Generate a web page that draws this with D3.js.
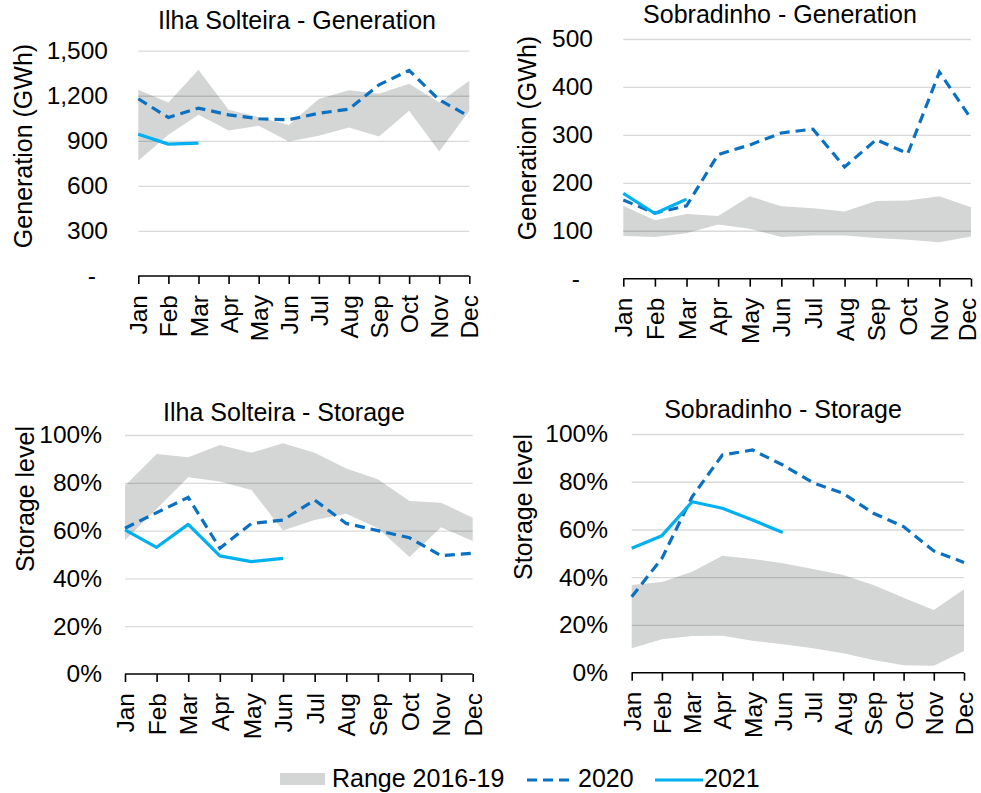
<!DOCTYPE html>
<html>
<head>
<meta charset="utf-8">
<script src="https://cdn.jsdelivr.net/npm/d3@7"></script>
<style>
  html, body { margin: 0; padding: 0; background: #fff; }
  svg { display: block; font-family: Arial, "Liberation Sans", sans-serif; }
</style>
</head>
<body>
<svg id="chart" width="981" height="793"></svg>
<script>
// ---------- DATA ----------
const months = ["Jan","Feb","Mar","Apr","May","Jun","Jul","Aug","Sep","Oct","Nov","Dec"];

// Ilha Solteira - Generation (GWh)
const ilhaGenLow   = [767, 940, 1073, 969, 1000, 895, 933, 989, 929, 1100, 829, 1100];
const ilhaGenHigh  = [1240, 1155, 1373, 1107, 1058, 1005, 1178, 1236, 1213, 1280, 1155, 1300];
const ilhaGen2020  = [1180, 1055, 1118, 1073, 1047, 1040, 1084, 1111, 1273, 1369, 1173, 1062];
const ilhaGen2021  = [944, 878, 884];
const ilhaGenTicks = [0, 300, 600, 900, 1200, 1500];

// Sobradinho - Generation (GWh)
const sobGenLow   = [89, 87, 95, 113, 104, 87, 90, 90, 85, 81, 76, 88];
const sobGenHigh  = [152, 122, 135, 131, 172, 151, 147, 140, 162, 163, 172, 149];
const sobGen2020  = [164, 137, 152, 259, 279, 304, 312, 233, 290, 261, 431, 334];
const sobGen2021  = [178, 136, 166];
const sobGenTicks = [0, 100, 200, 300, 400, 500];

// Ilha Solteira - Storage (%)
const ilhaStoLow  = [56, 69, 82.3, 80.5, 77, 60, 64.4, 67, 61, 49, 61.4, 55.6];
const ilhaStoHigh = [78.8, 92, 90.7, 95.8, 92.6, 96.5, 92.6, 86, 81.5, 72.4, 71.7, 65.4];
const ilhaSto2020 = [61, 67.5, 73.9, 52.6, 63, 64.4, 72.8, 63, 60, 57, 49.5, 50.5];
const ilhaSto2021 = [60.3, 53, 62.6, 49.4, 47, 48.4];

// Sobradinho - Storage (%)
const sobStoLow  = [10.2, 14, 15.4, 15.5, 13.4, 11.9, 10.2, 8.1, 5.3, 3.1, 2.9, 9.1];
const sobStoHigh = [36.7, 38, 42.3, 49, 47.6, 45.9, 43.4, 40.9, 36.7, 31.4, 26.3, 35];
const sobSto2020 = [31.8, 47.9, 73.7, 91.2, 93.3, 87, 79.6, 75.1, 66.8, 61.2, 51, 46.2];
const sobSto2021 = [52.1, 57.4, 71.6, 68.9, 64, 58.7];
const stoTicks   = [0, 20, 40, 60, 80, 100];

const legendLabels = ["Range 2016-19", "2020", "2021"];

// ---------- STYLE ----------
const C_BAND = "#d4d5d5";
const C_2020 = "#0a70c2";
const C_2021 = "#00b0f0";
const FONT = 25;
const TICKFONT = 24.5;
const W = 981;

const svg = d3.select("#chart");

const panels = [
  { title: "Ilha Solteira - Generation", ytitle: "Generation (GWh)",
    low: ilhaGenLow, high: ilhaGenHigh, s2020: ilhaGen2020, s2021: ilhaGen2021,
    ticks: ilhaGenTicks, max: 1500,
    fmt: v => v === 0 ? "-" : d3.format(",")(v),
    x0: 138.3, x1: 469.3, yTop: 50.7, yBase: 276,
    tickRight: 108, zeroRight: 96, titleX: 297, titleY: 29, ytX: 23, ytY: 146 },
  { title: "Sobradinho - Generation", ytitle: "Generation (GWh)",
    low: sobGenLow, high: sobGenHigh, s2020: sobGen2020, s2021: sobGen2021,
    ticks: sobGenTicks, max: 500,
    fmt: v => v === 0 ? "-" : d3.format(",")(v),
    x0: 623.3, x1: 971, yTop: 39, yBase: 278.7,
    tickRight: 593, zeroRight: 580, titleX: 780, titleY: 23, ytX: 527, ytY: 138 },
  { title: "Ilha Solteira - Storage", ytitle: "Storage level",
    low: ilhaStoLow, high: ilhaStoHigh, s2020: ilhaSto2020, s2021: ilhaSto2021,
    ticks: stoTicks, max: 100,
    fmt: v => v + "%",
    x0: 125, x1: 472.7, yTop: 435, yBase: 674,
    tickRight: 102, zeroRight: 102, titleX: 284, titleY: 421, ytX: 25, ytY: 499 },
  { title: "Sobradinho - Storage", ytitle: "Storage level",
    low: sobStoLow, high: sobStoHigh, s2020: sobSto2020, s2021: sobSto2021,
    ticks: stoTicks, max: 100,
    fmt: v => v + "%",
    x0: 631.7, x1: 964, yTop: 434, yBase: 672.7,
    tickRight: 608, zeroRight: 608, titleX: 783, titleY: 418, ytX: 523, ytY: 507 }
];

panels.forEach(p => {
  const g = svg.append("g");
  const x = d3.scalePoint().domain(months).range([p.x0, p.x1]);
  const y = d3.scaleLinear().domain([0, p.max]).range([p.yBase, p.yTop]);

  // band
  const area = d3.area()
    .x((d, i) => x(months[i]))
    .y0((d, i) => y(p.low[i]))
    .y1((d, i) => y(p.high[i]));
  g.append("path").datum(p.low).attr("d", area).attr("fill", C_BAND);

  // gridlines
  const yAxisGrid = d3.axisLeft(y).tickValues(p.ticks.filter(t => t > 0))
    .tickSize(-(p.x1 - p.x0)).tickFormat("");
  const grid = g.append("g").attr("transform", `translate(${p.x0},0)`).call(yAxisGrid);
  grid.select(".domain").remove();
  grid.selectAll("line").attr("stroke", "rgba(0,0,0,0.15)").attr("stroke-width", 1.3);

  // y tick labels
  const yAxis = d3.axisLeft(y).tickValues(p.ticks).tickSize(0).tickPadding(0).tickFormat(p.fmt);
  const ya = g.append("g").attr("transform", `translate(${p.tickRight},0)`).call(yAxis);
  ya.select(".domain").remove();
  ya.selectAll("text")
    .attr("font-size", TICKFONT).attr("font-family", "Arial, 'Liberation Sans', sans-serif")
    .attr("fill", "#000")
    .attr("dx", d => d === 0 ? (p.zeroRight - p.tickRight) : 0);

  // lines
  const line = d3.line().x((d, i) => x(months[i])).y(d => y(d));
  g.append("path").datum(p.s2020).attr("d", line)
    .attr("fill", "none").attr("stroke", C_2020).attr("stroke-width", 3.2)
    .attr("stroke-dasharray", "10,6");
  g.append("path").datum(p.s2021).attr("d", line)
    .attr("fill", "none").attr("stroke", C_2021).attr("stroke-width", 3.2)
    .attr("stroke-linejoin", "round");

  // x axis
  const xAxis = d3.axisBottom(x).tickSize(8).tickPadding(0).tickSizeOuter(0);
  const xa = g.append("g").attr("transform", `translate(0,${p.yBase})`).call(xAxis);
  xa.select(".domain").attr("stroke", "#000").attr("stroke-width", 1.6)
    .attr("d", `M${p.x0},0H${p.x1}`);
  xa.selectAll(".tick line").attr("stroke", "#000").attr("stroke-width", 1.6);
  xa.selectAll(".tick text")
    .attr("font-size", TICKFONT).attr("font-family", "Arial, 'Liberation Sans', sans-serif")
    .attr("fill", "#000")
    .attr("text-anchor", "end")
    .attr("transform", "rotate(-90)")
    .attr("x", -19)
    // keep the last label's box inside the page edge
    .attr("y", d => Math.min(0, (W - 14) - x(d)))
    .attr("dy", "0.35em");

  // title
  g.append("text").attr("x", p.titleX).attr("y", p.titleY)
    .attr("text-anchor", "middle").attr("font-size", FONT).text(p.title);

  // y title
  g.append("text")
    .attr("transform", `translate(${p.ytX},${p.ytY}) rotate(-90)`)
    .attr("text-anchor", "middle").attr("dy", "0.35em")
    .attr("font-size", FONT).text(p.ytitle);
});

// ---------- LEGEND ----------
const lg = svg.append("g").attr("font-size", FONT);
lg.append("rect").attr("x", 280).attr("y", 773).attr("width", 45).attr("height", 12).attr("fill", C_BAND);
lg.append("text").attr("x", 332).attr("y", 787).text(legendLabels[0]);
lg.append("line").attr("x1", 527).attr("x2", 575).attr("y1", 780).attr("y2", 780)
  .attr("stroke", C_2020).attr("stroke-width", 3.2).attr("stroke-dasharray", "10,6");
lg.append("text").attr("x", 578).attr("y", 787).text(legendLabels[1]);
lg.append("line").attr("x1", 655).attr("x2", 703).attr("y1", 780).attr("y2", 780)
  .attr("stroke", C_2021).attr("stroke-width", 3.2);
lg.append("text").attr("x", 704).attr("y", 787).text(legendLabels[2]);
</script>
</body>
</html>
